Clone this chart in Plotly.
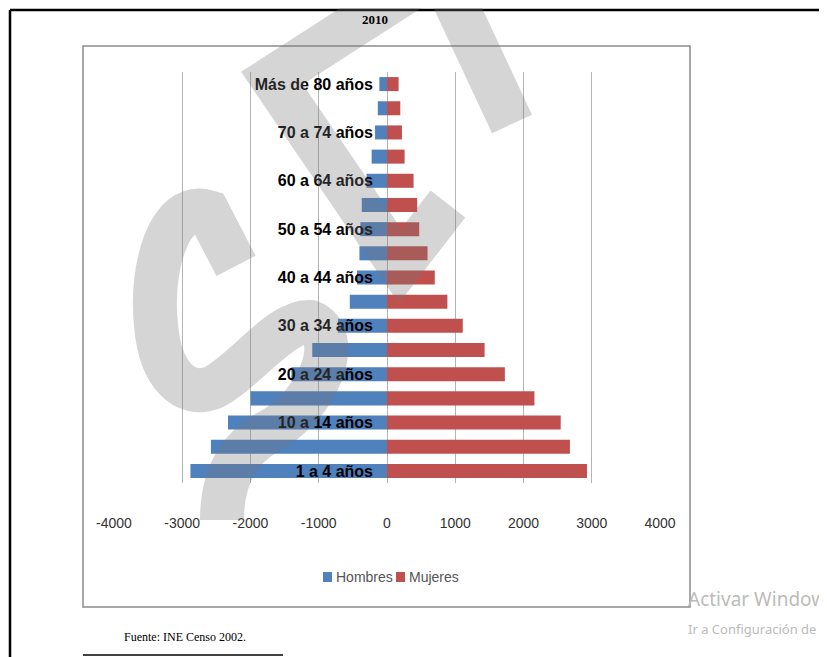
import plotly.graph_objects as go

# la página tiene 8px de margen en el navegador: la figura se corre para compensar
OFF = 8
W, H = 827 - OFF, 657 - OFF

edades = [
    "1 a 4 años", "5 a 9 años", "10 a 14 años", "15 a 19 años", "20 a 24 años",
    "25 a 29 años", "30 a 34 años", "35 a 39 años", "40 a 44 años", "45 a 49 años",
    "50 a 54 años", "55 a 59 años", "60 a 64 años", "65 a 69 años", "70 a 74 años",
    "75 a 79 años", "Más de 80 años",
]
hombres = [-2880, -2580, -2330, -2000, -1400, -1095, -720, -545, -440, -404,
           -390, -370, -300, -225, -175, -135, -112]
mujeres = [2930, 2680, 2545, 2160, 1727, 1430, 1110, 885, 700, 594,
           472, 442, 389, 258, 219, 195, 170]
etiquetas_y = edades[::2]
ticks_x = [-4000, -3000, -2000, -1000, 0, 1000, 2000, 3000, 4000]
ticks_x_txt = ["-4000", "-3000", "-2000", "-1000", "0", "1000", "2000", "3000", "4000"]
series = ["Hombres", "Mujeres"]
colores = ["#4F81BD", "#C0504D"]


def px_x(x):
    return (x - OFF) / W


def px_y(y):
    return 1 - (y - OFF) / H


def trazo(cmds):
    # cmds: lista de (letra, [(x, y), ...]) en pixeles de la página
    partes = []
    for letra, pts in cmds:
        partes.append(letra + " " + " ".join(f"{px_x(x):.4f},{px_y(y):.4f}" for x, y in pts))
    return " ".join(partes)


sans = "Liberation Sans, Arial, sans-serif"

fig = go.Figure()
fig.add_trace(go.Bar(y=edades, x=hombres, name=series[0], orientation="h",
                     marker=dict(color=colores[0], line_width=0)))
fig.add_trace(go.Bar(y=edades, x=mujeres, name=series[1], orientation="h",
                     marker=dict(color=colores[1], line_width=0)))

x0, x1 = px_x(114), px_x(660)
fig.update_layout(
    width=W, height=H,
    margin=dict(l=0, r=0, t=0, b=0, autoexpand=False),
    paper_bgcolor="white", plot_bgcolor="white",
    barmode="relative", bargap=0.42,
    showlegend=False,
    xaxis=dict(domain=[x0, x1], range=[-4000, 4000], tickmode="array",
               tickvals=ticks_x, ticktext=ticks_x_txt, automargin=False,
               showgrid=True, gridcolor="#b4b4b4", gridwidth=1, zeroline=False,
               showline=False, ticks="", ticklabelstandoff=30,
               tickfont=dict(family=sans, size=14, color="#333")),
    yaxis=dict(domain=[px_y(483), px_y(72)], range=[-0.5, 16.5],
               categoryorder="array", categoryarray=edades,
               tickmode="array", tickvals=etiquetas_y, ticktext=etiquetas_y,
               anchor="free", position=(x0 + x1) / 2, automargin=False,
               showgrid=False, zeroline=False, showline=False, ticks="",
               ticklabelstandoff=14,
               tickfont=dict(family=sans, size=16, color="black", weight="bold")),
)

# leyenda dibujada a mano (cuadro pegado al texto, como en el original)
for nombre, color, xs in zip(series, colores, [323, 396]):
    fig.add_shape(type="rect", xref="paper", yref="paper",
                  x0=px_x(xs), x1=px_x(xs + 9), y0=px_y(582), y1=px_y(572),
                  fillcolor=color, line_width=0)
    fig.add_annotation(xref="paper", yref="paper", x=px_x(xs + 11), y=px_y(577), text=nombre,
                       showarrow=False, xanchor="left", yanchor="middle",
                       font=dict(family=sans, size=14, color="#555"))

# marco del gráfico y borde de página
fig.add_shape(type="rect", xref="paper", yref="paper",
              x0=px_x(83), x1=px_x(690), y0=px_y(607), y1=px_y(46),
              line=dict(color="#8c8c8c", width=1.5))
fig.add_shape(type="line", xref="paper", yref="paper",
              x0=px_x(10), x1=1, y0=px_y(10), y1=px_y(10), line=dict(color="black", width=2.5))
fig.add_shape(type="line", xref="paper", yref="paper",
              x0=px_x(10), x1=px_x(10), y0=px_y(10), y1=0, line=dict(color="black", width=2.5))
fig.add_shape(type="line", xref="paper", yref="paper",
              x0=px_x(83), x1=px_x(283), y0=px_y(655), y1=px_y(655), line=dict(color="black", width=1.5))

# marca de agua (trazos grises semitransparentes encima del gráfico)
marca_s = trazo([
    ("M", [(236, 266)]), ("L", [(208, 212)]),
    ("C", [(168, 200), (150, 270), (156, 325)]),
    ("C", [(160, 375), (185, 398), (212, 388)]),
    ("C", [(245, 372), (280, 320), (310, 322)]),
    ("C", [(345, 335), (320, 405), (268, 432)]),
    ("C", [(240, 448), (222, 475), (222, 520)]),
])
marca_v = trazo([
    ("M", [(512, 124)]), ("L", [(440, -30)]), ("L", [(272, 78)]),
    ("L", [(400, 266)]), ("L", [(448, 204)]),
])
for p in (marca_s, marca_v):
    fig.add_shape(type="path", xref="paper", yref="paper", path=p,
                  line=dict(color="#777", width=44), opacity=0.3, layer="above")

fig.add_annotation(xref="paper", yref="paper", x=px_x(375), y=px_y(20), text="<b>2010</b>",
                   showarrow=False, yanchor="middle",
                   font=dict(family="Liberation Serif", size=13, color="black"))
fig.add_annotation(xref="paper", yref="paper", x=px_x(122), y=px_y(637), text="Fuente: INE Censo 2002.",
                   showarrow=False, xanchor="left", yanchor="middle",
                   font=dict(family="Liberation Serif", size=12, color="black"))
fig.add_annotation(xref="paper", yref="paper", x=px_x(686), y=px_y(599), text="Activar Windows",
                   showarrow=False, xanchor="left", yanchor="middle",
                   font=dict(family="Noto Sans", size=19, color="#bbb"))
fig.add_annotation(xref="paper", yref="paper", x=px_x(686), y=px_y(629), text="Ir a Configuración de PC",
                   showarrow=False, xanchor="left", yanchor="middle",
                   font=dict(family="Noto Sans", size=13, color="#bbb"))

fig.write_html("out.html")
